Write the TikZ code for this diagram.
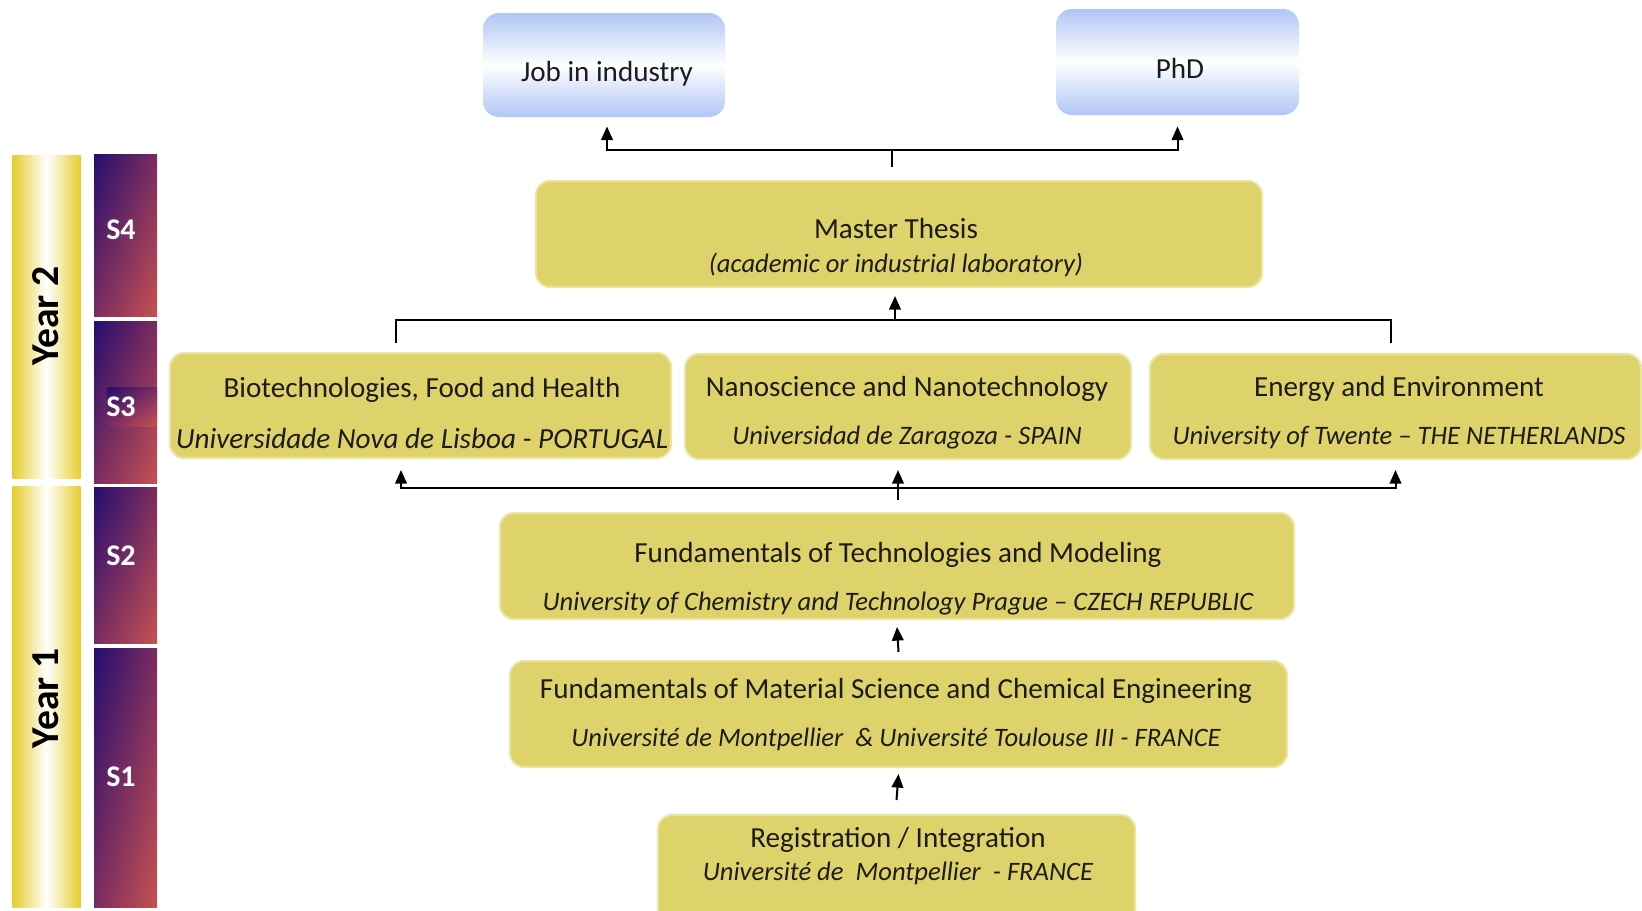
\documentclass[tikz,border=0pt]{standalone}
\usepackage{fontspec}
\setmainfont{Carlito}
\usetikzlibrary{arrows.meta,calc,shadings}
\definecolor{boxfill}{RGB}{221,211,106}
\definecolor{boxedge}{RGB}{234,228,160}
\definecolor{bluebox}{RGB}{176,198,245}
\definecolor{sblue}{RGB}{36,14,112}
\definecolor{smid}{RGB}{122,44,96}
\definecolor{sred}{RGB}{198,82,82}
\definecolor{ygold}{RGB}{230,205,45}
\definecolor{txt}{RGB}{28,28,28}
\begin{document}
\begin{tikzpicture}[x=0.5pt,y=-0.5pt,
  ybox/.style={rounded corners=7pt, fill=boxfill, draw=boxedge, line width=1pt, inner sep=0pt},
  bbox/.style={rounded corners=8pt, top color=bluebox, bottom color=bluebox, middle color=white, inner sep=0pt, draw=none},
  ttl/.style={font=\fontsize{14.55}{16}\selectfont, text=txt, inner sep=0pt, text height=0.62em, text depth=0.12em, yshift=-2.1pt},
  sub/.style={font=\fontsize{13.3}{16}\selectfont\itshape, text=txt, inner sep=0pt, text height=0.62em, text depth=0.12em, yshift=-2.1pt},
  yearlbl/.style={font=\fontsize{19.8}{21}\selectfont\bfseries, text=black, rotate=90, inner sep=0pt},
  slbl/.style={font=\fontsize{15}{17}\selectfont\bfseries, text=white, inner sep=0pt},
  sbar/.style={upper left=sblue, upper right=smid, lower left=smid, lower right=sred},
  conn/.style={line width=1pt, draw=black},
  arr/.style={conn, -{Triangle[width=5.8pt,length=6.8pt]}}
]
\fill[white] (0,0) rectangle (1642,910);
\useasboundingbox (0,0) rectangle (1642,910);
\clip (0,0) rectangle (1642,910);

% Year bars
\shade[left color=ygold, right color=ygold, middle color=white] (12.6,155) rectangle (80.6,478);
\shade[left color=ygold, right color=ygold, middle color=white] (12.6,486) rectangle (80.6,907);
\node[yearlbl] (y2) at (46,316) {Year 2};
\node[yearlbl] (y1) at (46,698) {Year 1};

% Semester bars
\shade[sbar] (94,154) rectangle (157,316);
\shade[sbar] (94,321) rectangle (157,483);
\shade[sbar] (107,387) rectangle (157,426);
\shade[sbar] (94,487) rectangle (157,643);
\shade[sbar] (94,648) rectangle (157,907);
\node[slbl] (s4) at (121,230) {S4};
\node[slbl] (s3) at (121,407) {S3};
\node[slbl] (s2) at (121,556) {S2};
\node[slbl] (s1) at (121,777) {S1};

% Outcome boxes
\node[bbox, minimum width=121pt, minimum height=52pt] (job) at (604,65) {};
\node[ttl] (job-t) at (607,72) {Job in industry};
\node[bbox, minimum width=121.5pt, minimum height=53pt] (phd) at (1177.5,62) {};
\node[ttl] (phd-t) at (1180,69) {PhD};

% Master thesis
\node[ybox, minimum width=363pt, minimum height=53pt] (master) at (899,234) {};
\node[ttl] (master-t) at (896,229) {Master Thesis};
\node[sub] (master-s) at (896,263) {(academic or industrial laboratory)};

% Specialisations
\node[ybox, minimum width=250.5pt, minimum height=52.5pt] (bio) at (420.5,405.5) {};
\node[ttl] (bio-t) at (422,388) {Biotechnologies, Food and Health};
\node[sub, font=\fontsize{14.6}{16}\selectfont\itshape] (bio-s) at (422,439) {Universidade Nova de Lisboa - PORTUGAL};

\node[ybox, minimum width=223pt, minimum height=52.5pt] (nano) at (908,406.5) {};
\node[ttl] (nano-t) at (907,387) {Nanoscience and Nanotechnology};
\node[sub] (nano-s) at (907,435) {Universidad de Zaragoza - SPAIN};

\node[ybox, minimum width=245.5pt, minimum height=52.5pt] (energy) at (1395.5,406.5) {};
\node[ttl] (energy-t) at (1399,387) {Energy and Environment};
\node[sub] (energy-s) at (1399,435) {University of Twente -- THE NETHERLANDS};

% Year 1 boxes
\node[ybox, minimum width=397pt, minimum height=53pt] (ftech) at (897,566) {};
\node[ttl] (ftech-t) at (898,553) {Fundamentals of Technologies and Modeling};
\node[sub] (ftech-s) at (898,601) {University of Chemistry and Technology Prague -- CZECH REPUBLIC};

\node[ybox, minimum width=388.5pt, minimum height=53pt] (fmat) at (898.5,714) {};
\node[ttl] (fmat-t) at (896,689) {Fundamentals of Material Science and Chemical Engineering};
\node[sub] (fmat-s) at (896,737) {Université de Montpellier~ \& Université Toulouse III - FRANCE};

\node[ybox, minimum width=238.5pt, minimum height=55pt] (reg) at (896.5,870) {};
\node[ttl] (reg-t) at (898,838) {Registration / Integration};
\node[sub] (reg-s) at (898,871) {Université de~ Montpellier~ - FRANCE};

% Connectors
\coordinate (top-split) at (892,150);
\draw[conn] ([xshift=-3.5pt,yshift=6.5pt]master.north) -- (top-split);
\draw[arr] (top-split) -| ([xshift=1.5pt,yshift=-4.5pt]job.south);
\draw[arr] (top-split) -| ([yshift=-5.5pt]phd.south);

\coordinate (mid-join) at (895,320);
\draw[conn] ([xshift=-12.25pt,yshift=4.5pt]bio.north) |- (mid-join);
\draw[conn] ([xshift=-2.25pt,yshift=5pt]energy.north) |- (mid-join);
\draw[arr] (mid-join) -- ([xshift=-2pt,yshift=-4pt]master.south);

\coordinate (low-join) at (898,488);
\draw[conn] ([xshift=0.5pt,yshift=6pt]ftech.north) -- (low-join);
\draw[arr] (low-join) -| ([xshift=-9.75pt,yshift=-5.5pt]bio.south);
\draw[arr] (low-join) -- ([yshift=-5pt]nano.south -| low-join);
\draw[arr] (low-join) -| ([yshift=-5pt]energy.south);

\draw[arr] ([yshift=4pt]fmat.north) -- ([yshift=-3.5pt]ftech.south);
\draw[arr] ([yshift=7pt]reg.north) -- ([yshift=-3pt]fmat.south);
\end{tikzpicture}
\end{document}
